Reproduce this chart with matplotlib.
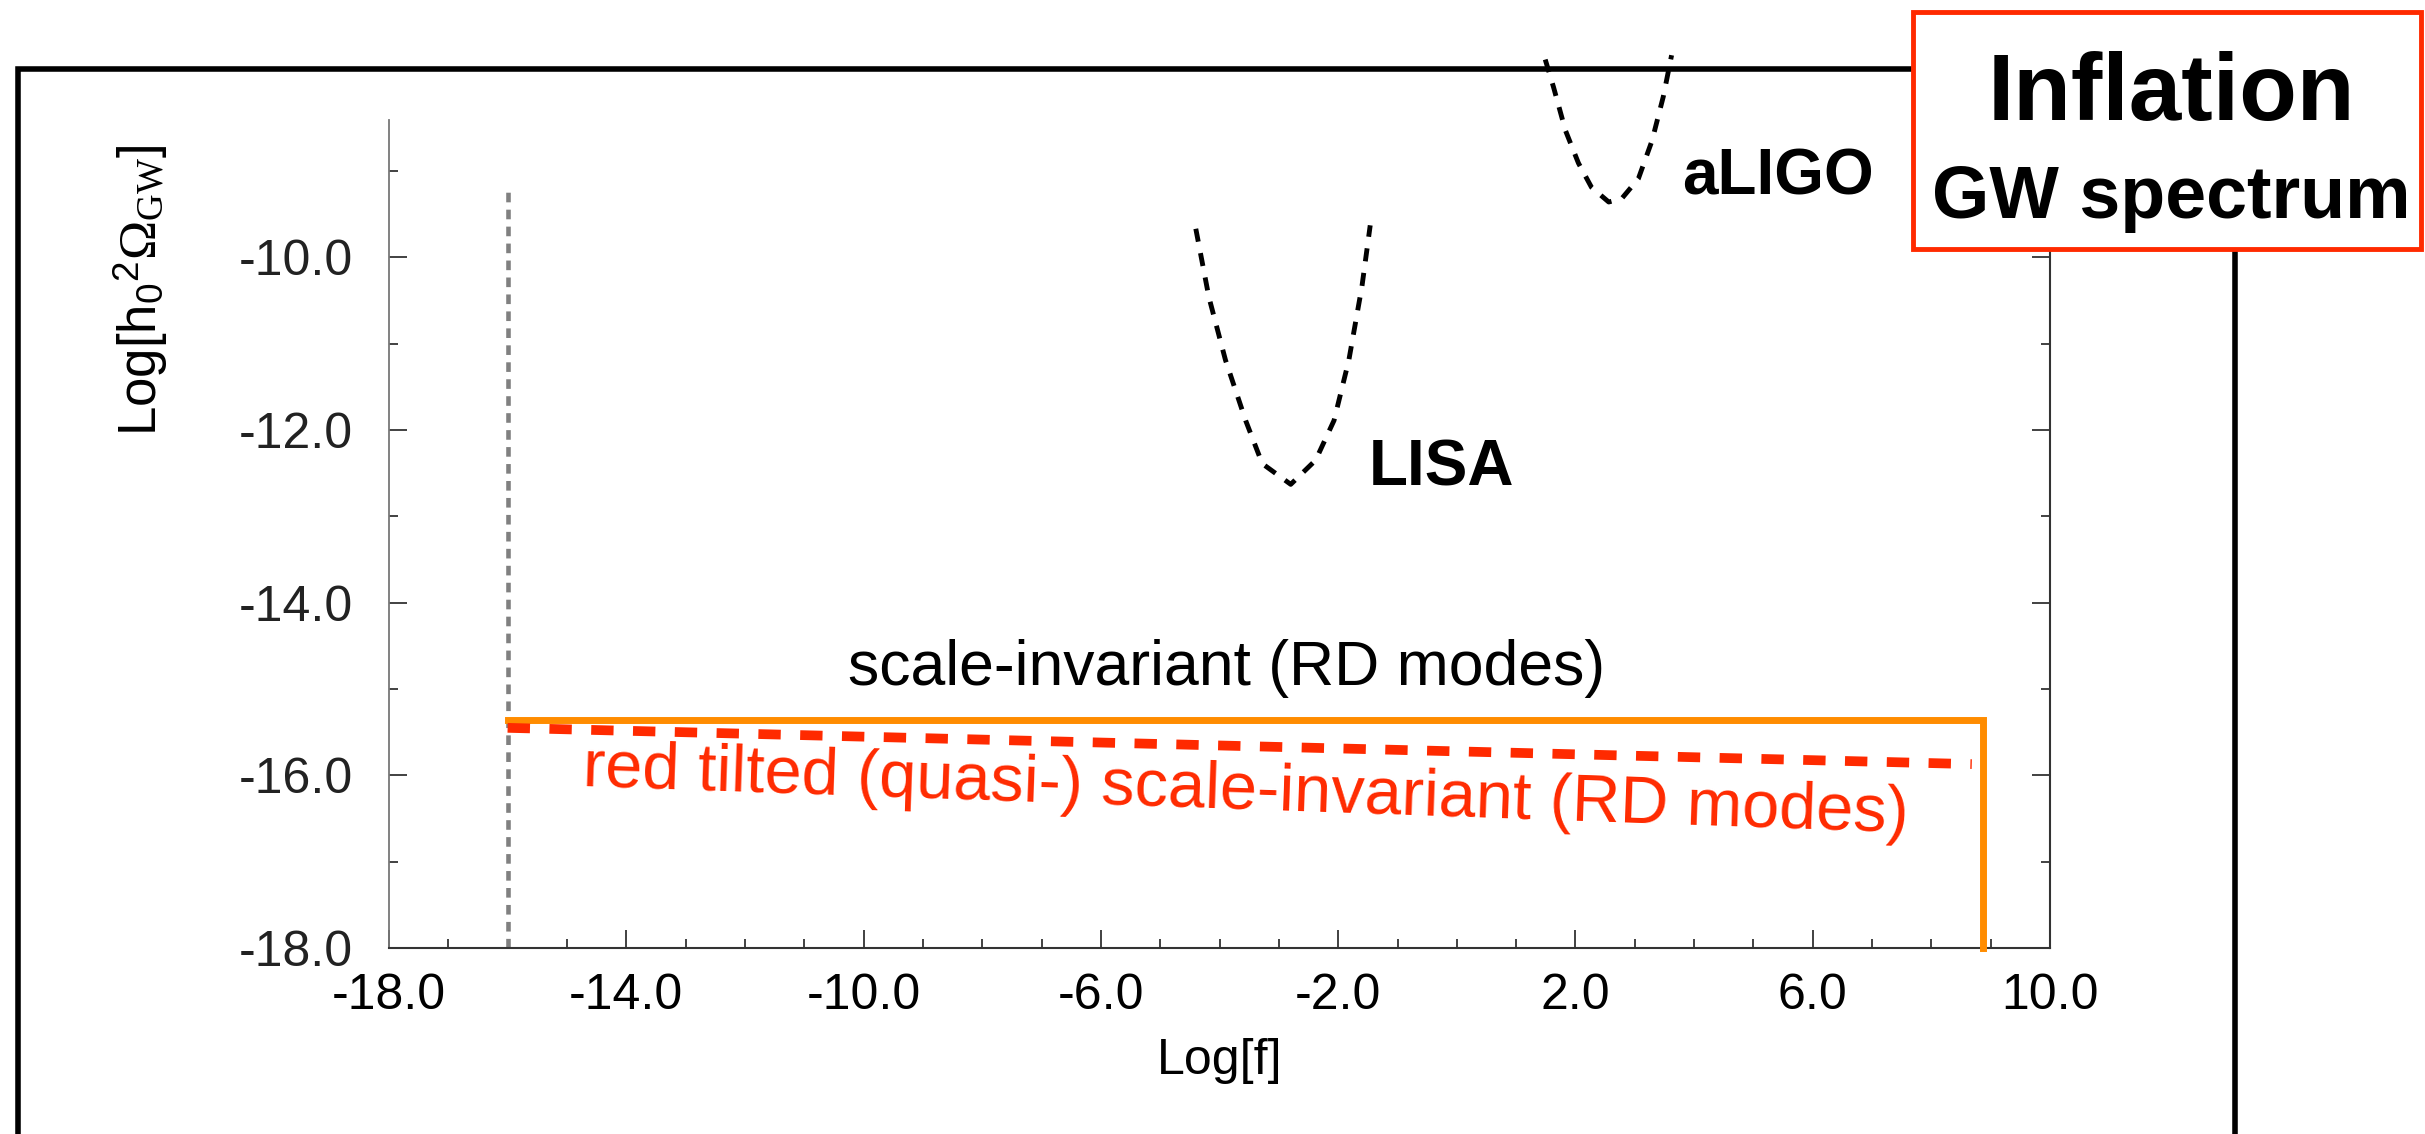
import matplotlib
matplotlib.use("Agg")
import matplotlib.pyplot as plt
from matplotlib.ticker import FixedLocator, MultipleLocator
from matplotlib.patches import Rectangle

# ---------------------------------------------------
# data
# ---------------------------------------------------
x_ticks = [-18, -14, -10, -6, -2, 2, 6, 10]
x_tick_labels = ["-18.0", "-14.0", "-10.0", "-6.0", "-2.0", "2.0", "6.0", "10.0"]
y_ticks = [-18, -16, -14, -12, -10]
y_tick_labels = ["-18.0", "-16.0", "-14.0", "-12.0", "-10.0"]

# LISA sensitivity curve
lisa_x = [-4.40, -4.18, -3.90, -3.56, -3.28, -2.80, -2.38, -2.07, -1.82, -1.60, -1.46]
lisa_y = [-9.67, -10.46, -11.19, -11.89, -12.39, -12.63, -12.35, -11.89, -11.19, -10.34, -9.63]

# aLIGO sensitivity curve
aligo_x = [1.49, 1.63, 1.83, 2.05, 2.27, 2.56, 2.78, 3.06, 3.29, 3.48, 3.62]
aligo_y = [-7.71, -8.03, -8.53, -8.91, -9.19, -9.36, -9.32, -9.09, -8.65, -8.14, -7.66]

# scale-invariant (orange) and red tilted spectrum
flat_x = [-16.0, 8.87, 8.87]
flat_y = [-15.36, -15.36, -18.0]
tilt_x = [-16.0, 8.68]
tilt_y = [-15.45, -15.87]

# lower cut-off (grey dashed)
cut_x = [-16.0, -16.0]
cut_y = [-18.0, -9.22]

RED = "#ff2a00"
ORANGE = "#ff8c00"

plt.rcParams["font.family"] = ["Liberation Sans", "DejaVu Sans"]
plt.rcParams["mathtext.fontset"] = "custom"
plt.rcParams["mathtext.rm"] = "Liberation Serif"
plt.rcParams["mathtext.sf"] = "Liberation Sans"
plt.rcParams["mathtext.it"] = "Liberation Serif:italic"

fig = plt.figure(figsize=(24.25, 11.34), dpi=100)
ax = fig.add_axes([0.1604, 0.164, 0.6850, 0.7302])

ax.plot(cut_x, cut_y, color="#808080", lw=3.3, dashes=(2.1, 1.6), zorder=2)
ax.plot(flat_x, flat_y, color=ORANGE, lw=5, solid_joinstyle="miter", zorder=3, clip_on=False)
ax.plot(tilt_x, tilt_y, color=RED, lw=7, dashes=(2.3, 2.0), zorder=4)
ax.plot(lisa_x, lisa_y, color="black", lw=3.5, dashes=(2.7, 2.4), clip_on=False)
ax.plot(aligo_x, aligo_y, color="black", lw=3.5, dashes=(2.7, 2.4), clip_on=False)

ax.text(-1.48, -12.64, "LISA", fontsize=46, fontweight="bold", ha="left", va="baseline")
ax.text(3.80, -9.27, "aLIGO", fontsize=46, fontweight="bold", ha="left", va="baseline",
        clip_on=False)
ax.text(-3.88, -14.95, "scale-invariant (RD modes)", fontsize=45, ha="center", va="baseline")
ax.text(-3.56, -16.39, "red tilted (quasi-) scale-invariant (RD modes)", fontsize=48,
        color=RED, ha="center", va="baseline", rotation=-2.0, rotation_mode="anchor")

ax.set_xlim(-18, 10)
ax.set_ylim(-18, -8.41)
ax.xaxis.set_major_locator(FixedLocator(x_ticks))
ax.xaxis.set_minor_locator(MultipleLocator(1))
ax.yaxis.set_major_locator(FixedLocator(y_ticks))
ax.yaxis.set_minor_locator(MultipleLocator(1))
ax.set_xticklabels(x_tick_labels)
ax.set_yticklabels(y_tick_labels)

ax.spines["top"].set_visible(False)
ax.spines["left"].set_color("#777777")
ax.spines["left"].set_linewidth(1.3)
ax.spines["bottom"].set_color("#333333")
ax.spines["bottom"].set_linewidth(1.5)
ax.spines["right"].set_color("#333333")
ax.spines["right"].set_linewidth(1.5)

ax.tick_params(which="both", direction="in", top=False, right=True, colors="#333333", width=1.3)
ax.tick_params(which="major", length=13)
ax.tick_params(which="minor", length=6.5)
ax.tick_params(axis="x", which="major", labelsize=36, pad=18, labelcolor="black")
ax.tick_params(axis="y", which="major", labelsize=36, pad=26, labelcolor="#222222")

ax.set_xlabel("Log[f]", fontsize=36, labelpad=14)
fig.text(0.058, 0.744, r"Log[h$_{\mathsf{0}}{}^{\mathsf{2}}\Omega_{\rm GW}$]", fontsize=38,
         rotation=90, ha="center", va="center")

# outer frame (runs off the bottom of the picture)
fig.add_artist(Rectangle((0.0074, -0.2), 0.9143, 1.1392, transform=fig.transFigure,
                         fill=False, edgecolor="black", lw=4, clip_on=False, zorder=5))

# title box
fig.add_artist(Rectangle((0.7889, 0.7804), 0.2093, 0.2090, transform=fig.transFigure,
                         facecolor="white", edgecolor=RED, lw=3.5, zorder=10))
fig.text(0.8953, 0.8942, "Inflation", fontsize=68, fontweight="bold",
         ha="center", va="baseline", zorder=11)
fig.text(0.8953, 0.8078, "GW spectrum", fontsize=53, fontweight="bold",
         ha="center", va="baseline", zorder=11)

fig.savefig("out.png", dpi=100, facecolor="white")
